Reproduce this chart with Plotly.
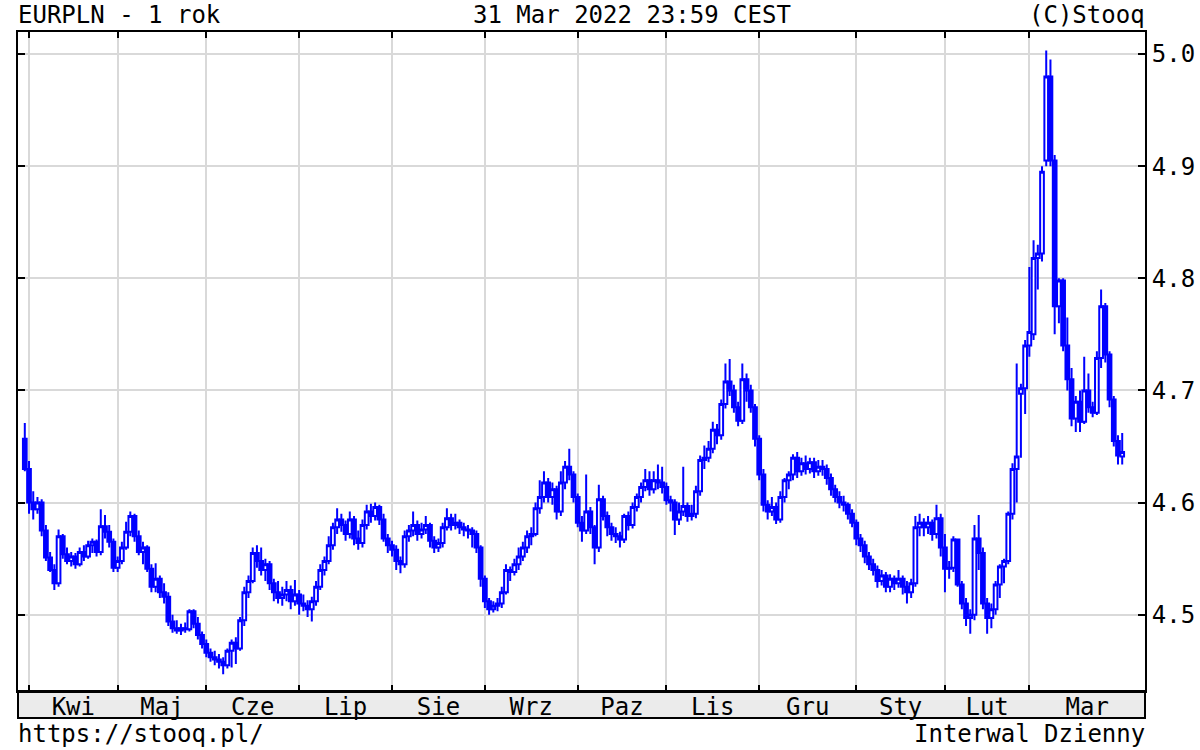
import pandas as pd
import plotly.graph_objects as go

# ---------------- data ----------------
dates = [d for d in pd.bdate_range("2021-03-31", "2022-03-31") if d != pd.Timestamp("2021-04-02")]

month_labels = ["Kwi", "Maj", "Cze", "Lip", "Sie", "Wrz", "Paz", "Lis", "Gru", "Sty", "Lut", "Mar"]

open_ = [
    4.657, 4.630, 4.600, 4.594, 4.600, 4.575, 4.551, 4.540, 4.528, 4.570,
    4.554, 4.548, 4.552, 4.545, 4.556, 4.552, 4.562, 4.565, 4.556, 4.579,
    4.574, 4.565, 4.542, 4.548, 4.560, 4.574, 4.588, 4.570, 4.556, 4.560,
    4.541, 4.525, 4.532, 4.520, 4.516, 4.494, 4.488, 4.486, 4.488, 4.487,
    4.503, 4.492, 4.482, 4.474, 4.466, 4.462, 4.460, 4.458, 4.455, 4.468,
    4.475, 4.470, 4.495, 4.520, 4.530, 4.555, 4.548, 4.540, 4.545, 4.528,
    4.520, 4.515, 4.518, 4.522, 4.512, 4.518, 4.510, 4.508, 4.505, 4.512,
    4.525, 4.540, 4.548, 4.562, 4.578, 4.585, 4.580, 4.572, 4.585, 4.568,
    4.564, 4.580, 4.592, 4.588, 4.596, 4.585, 4.568, 4.562, 4.558, 4.548,
    4.545, 4.570, 4.575, 4.580, 4.572, 4.576, 4.580, 4.566, 4.560, 4.564,
    4.578, 4.586, 4.580, 4.582, 4.578, 4.576, 4.575, 4.572, 4.560, 4.532,
    4.512, 4.505, 4.508, 4.510, 4.520, 4.540, 4.538, 4.545, 4.552, 4.560,
    4.570, 4.572, 4.595, 4.605, 4.618, 4.605, 4.612, 4.592, 4.618, 4.632,
    4.625, 4.605, 4.582, 4.575, 4.592, 4.578, 4.560, 4.603, 4.588, 4.578,
    4.572, 4.570, 4.567, 4.588, 4.580, 4.596, 4.605, 4.614, 4.620, 4.612,
    4.620, 4.618, 4.614, 4.602, 4.600, 4.585, 4.592, 4.597, 4.588, 4.590,
    4.610, 4.638, 4.640, 4.648, 4.665, 4.660, 4.688, 4.708, 4.700, 4.685,
    4.673, 4.710, 4.700, 4.685, 4.657, 4.625, 4.598, 4.592, 4.596, 4.585,
    4.605, 4.620, 4.625, 4.640, 4.628, 4.635, 4.630, 4.636, 4.628, 4.632,
    4.630, 4.622, 4.612, 4.605, 4.600, 4.598, 4.590, 4.582, 4.568, 4.562,
    4.552, 4.545, 4.540, 4.530, 4.535, 4.525, 4.532, 4.528, 4.532, 4.525,
    4.520, 4.528, 4.578, 4.582, 4.578, 4.582, 4.572, 4.586, 4.560, 4.541,
    4.542, 4.567, 4.527, 4.510, 4.497, 4.500, 4.568, 4.555, 4.510, 4.497,
    4.505, 4.527, 4.543, 4.548, 4.590, 4.630, 4.697, 4.702, 4.740, 4.750,
    4.818, 4.822, 4.905, 4.980, 4.905, 4.775, 4.798, 4.740, 4.710, 4.675,
    4.690, 4.672, 4.700, 4.685, 4.680, 4.729, 4.775, 4.732, 4.692, 4.655,
    4.641,
]

high = [
    4.671, 4.637, 4.610, 4.605, 4.603, 4.580, 4.556, 4.545, 4.576, 4.572,
    4.560, 4.556, 4.555, 4.560, 4.562, 4.566, 4.568, 4.567, 4.594, 4.589,
    4.580, 4.568, 4.552, 4.565, 4.583, 4.592, 4.590, 4.575, 4.565, 4.562,
    4.545, 4.546, 4.535, 4.528, 4.520, 4.500, 4.495, 4.492, 4.493, 4.505,
    4.505, 4.498, 4.485, 4.478, 4.470, 4.468, 4.465, 4.462, 4.470, 4.478,
    4.480, 4.498, 4.525, 4.535, 4.560, 4.562, 4.560, 4.550, 4.548, 4.532,
    4.530, 4.525, 4.530, 4.526, 4.531, 4.522, 4.518, 4.513, 4.516, 4.530,
    4.545, 4.552, 4.570, 4.582, 4.595, 4.590, 4.584, 4.592, 4.588, 4.575,
    4.585, 4.598, 4.599, 4.600, 4.598, 4.590, 4.572, 4.566, 4.562, 4.552,
    4.575, 4.580, 4.592, 4.584, 4.582, 4.588, 4.582, 4.570, 4.568, 4.582,
    4.595, 4.590, 4.590, 4.585, 4.582, 4.580, 4.578, 4.575, 4.562, 4.535,
    4.515, 4.512, 4.515, 4.525, 4.545, 4.543, 4.550, 4.560, 4.565, 4.575,
    4.578, 4.600, 4.620, 4.628, 4.622, 4.618, 4.615, 4.628, 4.637, 4.648,
    4.628, 4.608, 4.588, 4.625, 4.596, 4.580, 4.616, 4.606, 4.592, 4.582,
    4.578, 4.574, 4.590, 4.592, 4.600, 4.608, 4.618, 4.630, 4.628, 4.628,
    4.634, 4.632, 4.618, 4.606, 4.603, 4.600, 4.632, 4.600, 4.598, 4.615,
    4.642, 4.651, 4.655, 4.672, 4.670, 4.692, 4.724, 4.728, 4.705, 4.690,
    4.724, 4.715, 4.705, 4.688, 4.660, 4.630, 4.602, 4.605, 4.600, 4.610,
    4.622, 4.628, 4.643, 4.645, 4.640, 4.642, 4.640, 4.640, 4.638, 4.638,
    4.634, 4.626, 4.616, 4.610, 4.606, 4.600, 4.594, 4.585, 4.572, 4.566,
    4.556, 4.550, 4.544, 4.540, 4.538, 4.536, 4.535, 4.540, 4.535, 4.530,
    4.532, 4.588, 4.590, 4.586, 4.588, 4.585, 4.598, 4.590, 4.572, 4.548,
    4.570, 4.568, 4.530, 4.515, 4.505, 4.580, 4.589, 4.560, 4.515, 4.510,
    4.530, 4.545, 4.550, 4.592, 4.635, 4.724, 4.706, 4.745, 4.810, 4.834,
    4.830, 4.900, 5.003, 4.995, 4.910, 4.800, 4.800, 4.765, 4.720, 4.695,
    4.700, 4.730, 4.715, 4.690, 4.735, 4.790, 4.778, 4.735, 4.695, 4.660,
    4.662,
]

low = [
    4.628, 4.590, 4.585, 4.590, 4.570, 4.548, 4.538, 4.522, 4.525, 4.550,
    4.545, 4.543, 4.541, 4.543, 4.548, 4.550, 4.555, 4.552, 4.553, 4.568,
    4.560, 4.538, 4.538, 4.545, 4.558, 4.570, 4.565, 4.553, 4.545, 4.538,
    4.520, 4.520, 4.515, 4.510, 4.490, 4.484, 4.483, 4.482, 4.484, 4.485,
    4.488, 4.478, 4.470, 4.462, 4.458, 4.455, 4.452, 4.447, 4.452, 4.453,
    4.456, 4.468, 4.490, 4.515, 4.528, 4.542, 4.535, 4.530, 4.522, 4.512,
    4.510, 4.508, 4.512, 4.505, 4.508, 4.500, 4.503, 4.498, 4.494, 4.508,
    4.522, 4.535, 4.545, 4.558, 4.572, 4.574, 4.566, 4.568, 4.562, 4.558,
    4.560, 4.576, 4.582, 4.584, 4.580, 4.565, 4.555, 4.552, 4.540, 4.537,
    4.542, 4.565, 4.570, 4.566, 4.568, 4.572, 4.560, 4.555, 4.556, 4.560,
    4.575, 4.575, 4.576, 4.572, 4.570, 4.568, 4.560, 4.555, 4.525, 4.506,
    4.500, 4.502, 4.503, 4.506, 4.518, 4.530, 4.535, 4.540, 4.548, 4.555,
    4.562, 4.570, 4.590, 4.600, 4.600, 4.598, 4.585, 4.588, 4.612, 4.620,
    4.600, 4.578, 4.565, 4.572, 4.572, 4.545, 4.556, 4.584, 4.570, 4.566,
    4.564, 4.560, 4.564, 4.575, 4.577, 4.592, 4.600, 4.610, 4.606, 4.608,
    4.612, 4.608, 4.598, 4.592, 4.571, 4.580, 4.588, 4.583, 4.584, 4.586,
    4.606, 4.630, 4.636, 4.644, 4.652, 4.656, 4.684, 4.695, 4.680, 4.668,
    4.670, 4.690, 4.680, 4.650, 4.620, 4.592, 4.585, 4.588, 4.581, 4.582,
    4.600, 4.612, 4.620, 4.622, 4.624, 4.625, 4.626, 4.622, 4.624, 4.624,
    4.616, 4.606, 4.600, 4.595, 4.592, 4.585, 4.578, 4.562, 4.556, 4.546,
    4.540, 4.535, 4.524, 4.526, 4.520, 4.520, 4.522, 4.524, 4.518, 4.510,
    4.515, 4.525, 4.570, 4.570, 4.572, 4.566, 4.568, 4.552, 4.520, 4.532,
    4.538, 4.525, 4.505, 4.490, 4.483, 4.495, 4.540, 4.505, 4.483, 4.488,
    4.500, 4.515, 4.528, 4.545, 4.585, 4.600, 4.640, 4.679, 4.730, 4.745,
    4.790, 4.815, 4.900, 4.900, 4.750, 4.760, 4.735, 4.700, 4.668, 4.663,
    4.663, 4.670, 4.680, 4.676, 4.678, 4.720, 4.725, 4.685, 4.650, 4.634,
    4.634,
]

close = [
    4.630, 4.600, 4.594, 4.600, 4.575, 4.551, 4.540, 4.528, 4.570, 4.554,
    4.548, 4.552, 4.545, 4.556, 4.552, 4.562, 4.565, 4.556, 4.579, 4.574,
    4.565, 4.542, 4.548, 4.560, 4.574, 4.588, 4.570, 4.556, 4.560, 4.541,
    4.525, 4.532, 4.520, 4.516, 4.494, 4.488, 4.486, 4.488, 4.487, 4.503,
    4.492, 4.482, 4.474, 4.466, 4.462, 4.460, 4.458, 4.455, 4.468, 4.475,
    4.470, 4.495, 4.520, 4.530, 4.555, 4.548, 4.540, 4.545, 4.528, 4.520,
    4.515, 4.518, 4.522, 4.512, 4.518, 4.510, 4.508, 4.505, 4.512, 4.525,
    4.540, 4.548, 4.562, 4.578, 4.585, 4.580, 4.572, 4.585, 4.568, 4.564,
    4.580, 4.592, 4.588, 4.596, 4.585, 4.568, 4.562, 4.558, 4.548, 4.545,
    4.570, 4.575, 4.580, 4.572, 4.576, 4.580, 4.566, 4.560, 4.564, 4.578,
    4.586, 4.580, 4.582, 4.578, 4.576, 4.575, 4.572, 4.560, 4.532, 4.512,
    4.505, 4.508, 4.510, 4.520, 4.540, 4.538, 4.545, 4.552, 4.560, 4.570,
    4.572, 4.595, 4.605, 4.618, 4.605, 4.612, 4.592, 4.618, 4.632, 4.625,
    4.605, 4.582, 4.575, 4.592, 4.578, 4.560, 4.603, 4.588, 4.578, 4.572,
    4.570, 4.567, 4.588, 4.580, 4.596, 4.605, 4.614, 4.620, 4.612, 4.620,
    4.618, 4.614, 4.602, 4.600, 4.585, 4.592, 4.597, 4.588, 4.590, 4.610,
    4.638, 4.640, 4.648, 4.665, 4.660, 4.688, 4.708, 4.700, 4.685, 4.673,
    4.710, 4.700, 4.685, 4.657, 4.625, 4.598, 4.592, 4.596, 4.585, 4.605,
    4.620, 4.625, 4.640, 4.628, 4.635, 4.630, 4.636, 4.628, 4.632, 4.630,
    4.622, 4.612, 4.605, 4.600, 4.598, 4.590, 4.582, 4.568, 4.562, 4.552,
    4.545, 4.540, 4.530, 4.535, 4.525, 4.532, 4.528, 4.532, 4.525, 4.520,
    4.528, 4.578, 4.582, 4.578, 4.582, 4.572, 4.586, 4.560, 4.541, 4.542,
    4.567, 4.527, 4.510, 4.497, 4.500, 4.568, 4.555, 4.510, 4.497, 4.505,
    4.527, 4.543, 4.548, 4.590, 4.630, 4.641, 4.702, 4.740, 4.752, 4.818,
    4.822, 4.895, 4.980, 4.905, 4.775, 4.798, 4.740, 4.710, 4.675, 4.690,
    4.672, 4.700, 4.685, 4.680, 4.729, 4.775, 4.732, 4.692, 4.655, 4.642,
    4.645,
]

y_ticks = [4.5, 4.6, 4.7, 4.8, 4.9, 5.0]

# ---------------- positions (trading-day index) ----------------
x = list(range(len(dates)))
month_starts = [i for i in range(1, len(dates)) if dates[i].month != dates[i - 1].month]
x_lo, x_hi = -1.61, 265.4
bounds = month_starts + [x_hi]
month_mids = [(bounds[k] + bounds[k + 1]) / 2 for k in range(len(month_starts))]

FONT = "DejaVu Sans Mono"
BLUE = "#0000ff"

fig = go.Figure(
    go.Candlestick(
        x=x, open=open_, high=high, low=low, close=close,
        increasing=dict(line=dict(color=BLUE, width=2), fillcolor="white"),
        decreasing=dict(line=dict(color=BLUE, width=2), fillcolor=BLUE),
        whiskerwidth=0, hoverinfo="skip", showlegend=False,
    )
)

plot_h = 659.0
band = 27.0 / plot_h

fig.update_layout(
    width=1200, height=750,
    margin=dict(l=18, r=55, t=32, b=59, pad=0, autoexpand=False),
    paper_bgcolor="white", plot_bgcolor="white",
    font=dict(family=FONT, size=24, color="black"),
    showlegend=False,
    boxgap=0.12, boxgroupgap=0,
    xaxis=dict(
        range=[x_lo, x_hi], rangeslider=dict(visible=False), automargin=False,
        tickmode="array", tickvals=month_mids, ticktext=month_labels,
        ticks="", showgrid=False, zeroline=False, ticklabelstandoff=-7,
        showline=True, linecolor="black", linewidth=2, mirror="ticks",
        tickfont=dict(family=FONT, size=24, color="black"),
        minor=dict(tickmode="array", tickvals=month_starts, ticks="inside", ticklen=6,
                   tickwidth=2, tickcolor="black", showgrid=True,
                   gridcolor="#d9d9d9", gridwidth=2),
    ),
    yaxis=dict(
        range=[4.4320, 5.0196], side="right", automargin=False,
        tickmode="array", tickvals=y_ticks, ticktext=[f"{v:.1f}" for v in y_ticks],
        ticks="inside", ticklen=7, tickwidth=2, tickcolor="black",
        showgrid=True, gridcolor="#d9d9d9", gridwidth=2, zeroline=False,
        showline=True, linecolor="black", linewidth=2, mirror="ticks",
        tickfont=dict(family=FONT, size=24, color="black"),
    ),
    shapes=[
        dict(type="rect", xref="paper", yref="paper", x0=0, x1=1, y0=-band, y1=0,
             fillcolor="#ebebeb", line=dict(color="black", width=2), layer="below"),
    ],
    annotations=[
        dict(text="EURPLN - 1 rok", xref="paper", yref="paper", x=-0.002, y=(691 - 15) / plot_h,
             xanchor="left", yanchor="middle", showarrow=False),
        dict(text="31 Mar 2022 23:59 CEST", xref="paper", yref="paper", x=(631.5 - 18) / 1127,
             y=(691 - 15) / plot_h, xanchor="center", yanchor="middle", showarrow=False),
        dict(text="(C)Stooq", xref="paper", yref="paper", x=1.002, y=(691 - 15) / plot_h,
             xanchor="right", yanchor="middle", showarrow=False),
        dict(text="https://stooq.pl/", xref="paper", yref="paper", x=-0.002, y=(691 - 734) / plot_h,
             xanchor="left", yanchor="middle", showarrow=False),
        dict(text="Interwal Dzienny", xref="paper", yref="paper", x=1.002, y=(691 - 734) / plot_h,
             xanchor="right", yanchor="middle", showarrow=False),
    ],
)

fig.write_html(
    "out.html",
    config={"displayModeBar": False},
    post_script="document.body.style.margin='0px';document.body.style.overflow='hidden';",
)
